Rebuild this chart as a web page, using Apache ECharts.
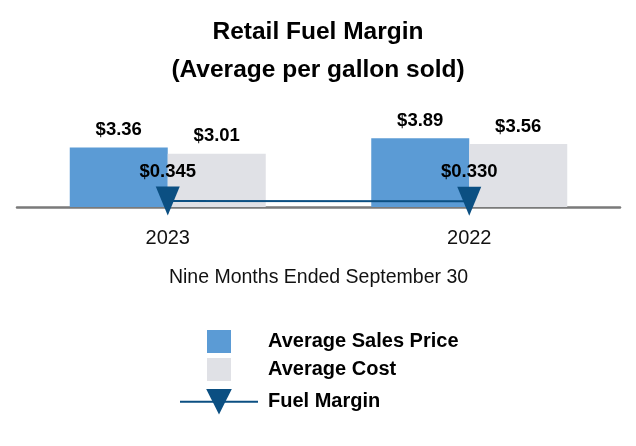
<!DOCTYPE html>
<html><head><meta charset="utf-8">
<script src="https://cdn.jsdelivr.net/npm/echarts@6/dist/echarts.min.js"></script>
<style>html,body{margin:0;padding:0;background:#fff}#c{width:636px;height:446px}</style>
</head><body><div id="c"></div>
<script>
const categories = ['2023', '2022'];
const avgSalesPrice = [3.36, 3.89];
const avgCost = [3.01, 3.56];
const fuelMargin = [0.345, 0.330];
const salesLabels = ['$3.36', '$3.89'];
const costLabels = ['$3.01', '$3.56'];
const marginLabels = ['$0.345', '$0.330'];

const FONT = "'Liberation Sans', Arial, sans-serif";
const chart = echarts.init(document.getElementById('c'));
chart.setOption({
  animation: false,
  title: {
    text: 'Retail Fuel Margin\n(Average per gallon sold)',
    left: 'center', top: 8,
    textStyle: { fontFamily: FONT, fontSize: 24.5, fontWeight: 'bold', color: '#000', lineHeight: 38 }
  },
  legend: [{
    data: ['Average Sales Price', 'Average Cost'],
    icon: 'rect',
    orient: 'vertical', left: 202, top: 325, itemWidth: 24, itemHeight: 23, itemGap: 5,
    textStyle: { fontFamily: FONT, fontSize: 20, fontWeight: 'bold', color: '#000', padding: [5, 0, 0, 32] }
  }, {
    data: ['Fuel Margin'],
    orient: 'vertical', left: 174, top: 384, itemWidth: 78, itemHeight: 32,
    textStyle: { fontFamily: FONT, fontSize: 20, fontWeight: 'bold', color: '#000', padding: [0, 0, 0, 5] }
  }],
  grid: { left: 17, right: 16, top: 118.5, height: 88.5 },
  xAxis: {
    type: 'category', data: categories,
    axisLine: { lineStyle: { color: '#7a7a7a', width: 2.5 } },
    axisTick: { alignWithLabel: true, length: 9, lineStyle: { color: '#bbb', width: 1 } },
    axisLabel: { fontFamily: FONT, fontSize: 20, color: '#111', margin: 21 },
    name: 'Nine Months Ended September 30', nameLocation: 'middle', nameGap: 61,
    nameTextStyle: { fontFamily: FONT, fontSize: 19.5, color: '#111' }
  },
  yAxis: { type: 'value', min: 0, max: 5, show: false, splitLine: { show: false } },
  series: [{
    name: 'Average Sales Price', type: 'bar', data: avgSalesPrice, barWidth: 98, barGap: '0%',
    itemStyle: { color: '#5B9BD5' },
    label: { show: true, position: 'top', distance: 8, formatter: p => salesLabels[p.dataIndex],
      fontFamily: FONT, fontSize: 18.5, fontWeight: 'bold', color: '#000' }
  }, {
    name: 'Average Cost', type: 'bar', data: avgCost, barWidth: 98,
    itemStyle: { color: '#E0E1E6' },
    label: { show: true, position: 'top', distance: 8, formatter: p => costLabels[p.dataIndex],
      fontFamily: FONT, fontSize: 18.5, fontWeight: 'bold', color: '#000' }
  }, {
    name: 'Fuel Margin', type: 'line', data: fuelMargin,
    symbol: 'triangle', symbolRotate: 180, symbolSize: [24, 29],
    lineStyle: { color: '#0B4F82', width: 2 },
    itemStyle: { color: '#0B4F82' },
    label: { show: true, position: 'top', distance: 5, formatter: p => marginLabels[p.dataIndex],
      fontFamily: FONT, fontSize: 18.5, fontWeight: 'bold', color: '#000' },
    z: 5
  }]
});
</script></body></html>
